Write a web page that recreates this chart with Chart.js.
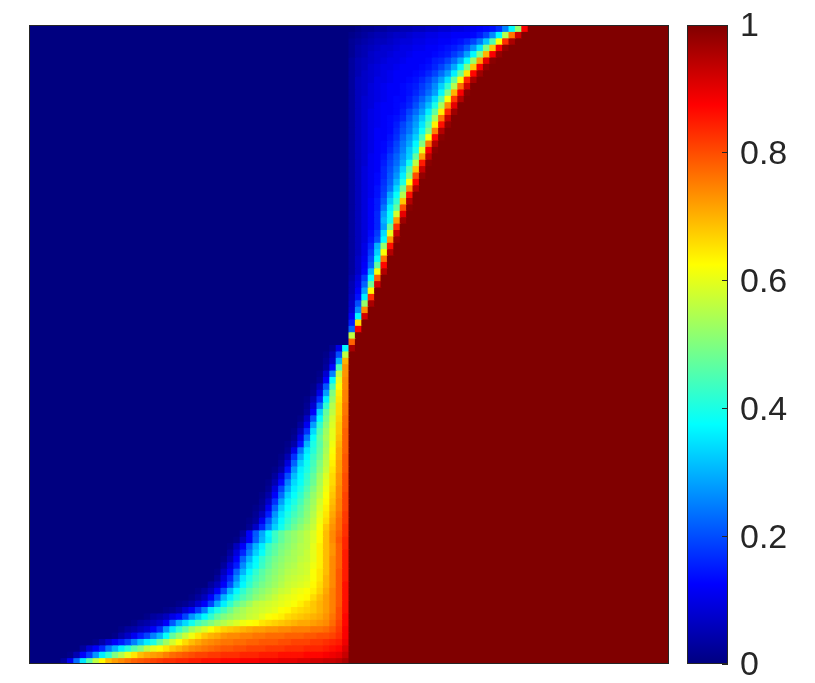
<!DOCTYPE html>
<html>
<head>
<meta charset="utf-8">
<title>Heat map</title>
<script src="https://cdn.jsdelivr.net/npm/chart.js@4/dist/chart.umd.min.js"></script>
<style>
  body { margin: 0; background: #fff; }
  canvas { position: absolute; left: 0; top: 0; }
</style>
</head>
<body>
<canvas id="map" width="815" height="683"></canvas>
<canvas id="bar" width="815" height="683"></canvas>
<script>
const COLUMNS = 100;
const colorbarTicks = [0, 0.2, 0.4, 0.6, 0.8, 1];

// jet colormap: stop position in percent, then rgb
const jetStops = [
  [0, [0, 0, 128]],
  [12.5, [0, 0, 255]],
  [37.5, [0, 255, 255]],
  [62.5, [255, 255, 0]],
  [87.5, [255, 0, 0]],
  [100, [128, 0, 0]],
];

// first column of each row that is not 0 (row 0 is the top row)
const firstRampColumn = [
  50, 50, 50, 50, 50, 50, 50, 50, 50, 50,
  50, 50, 50, 50, 50, 50, 50, 50, 50, 50,
  50, 50, 50, 50, 50, 50, 50, 50, 50, 50,
  50, 50, 50, 50, 50, 50, 50, 50, 50, 50,
  50, 50, 50, 50, 50, 50, 50, 50, 50, 50,
  47, 46, 46, 46, 45, 45, 44, 44, 43, 43,
  43, 42, 42, 41, 41, 40, 40, 39, 39, 38,
  38, 37, 37, 36, 36, 35, 35, 34, 34, 33,
  32, 31, 31, 30, 30, 29, 29, 28, 26, 25,
  23, 21, 18, 16, 14, 13, 10, 8, 6, 5,
];

// values read per row in percent, from firstRampColumn on. Whatever follows in the row is 100
const rampPercent = [
  [0,1,2,2,3,3,4,4,5,5,6,6,7,7,8,8,9,9,10,11,12,13,14,17,25,37,52,88],
  [1,2,3,4,5,5,6,7,7,8,9,9,10,10,11,11,12,12,12,13,15,19,26,37,55,76,92],
  [2,3,4,5,6,6,7,8,9,9,10,10,11,11,12,12,13,14,16,19,24,32,45,62,83,96],
  [2,4,5,6,7,8,8,9,10,10,11,11,12,12,13,14,15,17,21,27,35,50,68,88,98],
  [2,4,5,7,8,8,9,10,10,11,12,12,12,13,14,15,18,21,28,37,50,70,88,98],
  [3,5,6,7,8,9,10,10,11,12,12,12,13,15,16,19,23,29,38,52,72,90,99],
  [3,5,6,8,9,10,10,11,12,12,12,13,14,16,19,23,29,37,50,68,88,98],
  [3,5,7,8,9,10,11,12,12,12,13,14,16,19,23,28,36,48,65,87,97],
  [3,6,7,8,10,10,11,12,12,13,14,16,19,23,28,35,47,63,84,96],
  [3,6,7,9,10,11,12,12,13,14,15,18,21,26,33,42,55,77,92],
  [3,6,7,9,10,11,12,12,13,14,16,19,23,28,37,50,70,88,99],
  [3,6,8,9,10,11,12,13,13,15,18,22,27,34,45,62,82,95],
  [3,6,8,9,11,12,12,13,14,16,20,25,31,40,54,74,90],
  [3,6,8,10,11,12,12,13,15,19,23,28,36,47,64,84,97],
  [3,6,8,10,11,12,13,14,16,21,26,32,41,54,76,93],
  [3,6,8,10,11,12,13,15,19,23,28,35,45,64,86,98],
  [3,6,8,10,12,12,13,16,20,24,30,38,50,75,95],
  [3,6,8,10,12,12,14,17,22,27,33,44,62,87,99],
  [3,6,8,10,12,13,15,19,24,29,37,50,76,95],
  [3,6,8,10,12,13,16,20,25,32,40,60,88,99],
  [3,6,8,11,12,14,18,22,27,33,47,72,94],
  [3,6,8,11,12,15,19,23,29,39,56,85,99],
  [3,6,9,11,12,16,20,25,33,46,68,93],
  [3,6,9,11,13,16,21,27,36,50,80,98],
  [3,6,9,11,13,17,22,30,40,62,87],
  [3,6,9,11,14,18,24,34,48,74,95],
  [3,6,9,11,14,19,29,38,55,86],
  [3,6,9,12,15,21,32,42,68,95],
  [3,6,9,12,15,24,36,47,80,99],
  [3,6,9,12,16,28,38,58,90],
  [3,6,9,12,16,30,39,72,97],
  [3,6,9,12,16,28,48,83],
  [3,6,9,13,18,34,60,93],
  [3,6,9,14,20,37,73,98],
  [3,6,10,16,30,52,86],
  [3,6,10,18,33,62,95],
  [3,7,11,20,38,76],
  [3,7,12,22,47,87],
  [3,7,13,30,62,95],
  [4,9,18,38,78],
  [5,10,22,48,92],
  [5,12,28,63],
  [6,14,36,83],
  [7,20,52,96],
  [8,26,74],
  [11,37,92],
  [15,66],
  [22,88],
  [56],
  [78],
  // lower half, the ramp ends against the red block
  [2,10,37,96],
  [1,5,20,56],
  [2,7,30,70],
  [3,13,45,73],
  [1,8,25,56,73],
  [2,12,37,60,74],
  [1,6,21,44,62,74],
  [2,10,28,50,64,75],
  [1,5,16,36,52,65,75],
  [2,8,24,42,55,66,76],
  [3,12,33,47,56,66,76],
  [1,7,20,37,49,58,67,77],
  [3,11,28,42,51,59,68,77],
  [1,6,17,34,45,53,60,68,78],
  [2,10,24,38,47,54,60,69,78],
  [1,4,14,30,40,46,53,61,70,78],
  [2,10,24,35,41,47,54,62,71,78],
  [1,5,17,29,37,43,48,55,63,71,79],
  [2,9,22,33,39,44,50,56,64,72,79],
  [1,4,14,27,36,40,45,51,57,65,72,79],
  [3,9,20,31,37,42,47,53,59,66,73,80],
  [1,5,13,25,34,38,43,48,54,60,66,73,80],
  [2,9,19,29,36,40,45,50,55,61,67,74,80],
  [1,4,12,23,33,38,42,47,52,56,62,68,74,81],
  [2,7,17,28,36,40,44,49,53,58,63,69,75,81],
  [1,3,11,22,32,38,42,46,50,54,59,64,70,75,81],
  [2,6,15,27,35,40,44,47,51,55,60,65,71,76,82],
  [1,3,11,21,30,37,42,46,49,52,56,61,66,72,77,82],
  [2,7,16,25,33,39,44,48,51,54,57,62,68,73,77,83],
  [3,12,21,29,37,43,47,50,52,54,56,59,63,69,74,78,83],
  [1,6,12,22,30,36,43,47,50,52,54,56,59,63,69,74,79,84],
  [1,6,12,22,30,36,43,46,49,51,53,55,56,60,64,69,73,78,84],
  [3,9,16,25,33,38,44,47,50,52,54,55,57,60,64,69,73,78,85],
  [1,5,12,22,30,37,42,46,49,51,53,54,56,57,60,64,69,74,78,85],
  [3,9,15,26,34,38,43,47,50,52,54,55,57,58,61,64,69,74,78,85],
  [1,6,12,22,30,37,42,46,49,51,53,55,56,57,58,62,65,69,74,79,85],
  [3,9,16,26,35,40,44,47,50,52,54,56,57,58,59,62,65,70,74,79,85],
  [3,6,12,20,30,37,42,46,49,51,53,55,57,58,59,60,63,66,70,74,79,86],
  [1,3,6,12,20,30,37,42,46,49,51,53,55,57,58,60,61,62,64,67,71,75,79,86],
  [1,3,6,12,20,30,36,41,45,48,51,53,55,57,59,60,61,62,63,66,69,72,75,79,86],
  [1,2,4,8,12,19,29,36,42,47,50,53,56,57,58,59,60,61,62,64,66,68,70,72,75,79,86],
  [1,2,4,8,12,18,25,35,40,44,48,52,54,56,57,58,59,60,62,63,65,66,67,68,70,72,75,80,86],
  [1,3,4,6,10,13,19,27,32,37,42,47,50,52,54,55,57,58,60,62,63,64,66,67,68,69,70,71,73,76,80,87],
  [1,3,4,6,8,12,21,29,34,39,44,47,50,53,55,57,59,61,62,63,65,66,67,68,69,70,71,71,72,73,74,77,81,87],
  [1,3,4,6,8,12,17,27,35,42,47,53,56,59,62,65,67,68,69,70,71,72,72,73,73,74,74,75,75,75,76,76,77,79,82,88],
  [1,4,7,11,15,19,25,30,38,47,52,57,61,65,68,70,71,73,74,74,75,75,76,76,77,77,77,78,78,78,79,79,80,80,81,83,88],
  [1,4,8,12,15,19,25,31,36,40,47,53,58,62,66,69,71,73,74,75,76,76,77,77,78,78,79,79,79,80,80,81,81,81,82,82,83,84,85,89],
  [3,8,12,16,24,30,36,41,46,50,56,60,62,65,68,70,72,74,75,76,77,78,79,79,80,80,81,81,81,82,82,82,83,83,83,84,84,84,85,86,87,91],
  [1,5,12,18,27,36,42,50,55,60,65,69,71,72,73,75,77,78,79,80,81,81,82,82,83,83,83,84,84,84,85,85,85,86,86,86,86,87,87,87,88,89,90,93],
  [3,11,23,35,46,56,63,69,72,74,76,78,79,80,81,82,83,83,84,84,85,85,86,86,86,87,87,87,88,88,88,89,89,89,90,90,90,91,91,92,92,93,93,94,96],
];

function jetColor(percent) {
  let i = 1;
  while (i < jetStops.length - 1 && percent > jetStops[i][0]) i++;
  const [p0, c0] = jetStops[i - 1];
  const [p1, c1] = jetStops[i];
  const t = (percent - p0) / (p1 - p0);
  const mix = (k) => Math.round(c0[k] + (c1[k] - c0[k]) * t);
  return `rgb(${mix(0)},${mix(1)},${mix(2)})`;
}

function cellPercent(row, col) {
  const first = firstRampColumn[row];
  if (col < first) return 0;
  const ramp = rampPercent[row];
  return col - first < ramp.length ? ramp[col - first] : 100;
}

const frameColor = "#262626";

// the box around a plot area
const framePlugin = {
  id: "frame",
  afterDraw(chart) {
    const { ctx, chartArea: a } = chart;
    ctx.save();
    ctx.strokeStyle = frameColor;
    ctx.lineWidth = 1;
    ctx.strokeRect(a.left + 0.5, a.top + 0.5, a.right - a.left - 1, a.bottom - a.top - 1);
    ctx.restore();
  },
};

// one stacked dataset per row, the cell value only sets the colour
const columnLabels = Array.from({ length: COLUMNS }, (_, c) => c + 1);
const rowDatasets = firstRampColumn.map((_, row) => ({
  label: "row " + (row + 1),
  data: columnLabels.map(() => 1),
  backgroundColor: columnLabels.map((_, col) => jetColor(cellPercent(row, col))),
  borderWidth: 0,
  inflateAmount: 0.5,
  barPercentage: 1,
  categoryPercentage: 1,
}));

new Chart(document.getElementById("map"), {
  type: "bar",
  data: { labels: columnLabels, datasets: rowDatasets },
  plugins: [framePlugin],
  options: {
    responsive: false,
    animation: false,
    events: [],
    layout: { padding: { left: 29, top: 25, right: 146, bottom: 19 } },
    plugins: { legend: { display: false }, tooltip: { enabled: false } },
    scales: {
      x: { display: false, stacked: true },
      y: { display: false, stacked: true, reverse: true, min: 0, max: firstRampColumn.length },
    },
  },
});

new Chart(document.getElementById("bar"), {
  type: "bar",
  data: {
    labels: [""],
    datasets: [
      {
        data: [1],
        borderWidth: 0,
        barPercentage: 1,
        categoryPercentage: 1,
        backgroundColor(context) {
          const area = context.chart.chartArea;
          if (!area) return jetColor(50);
          const gradient = context.chart.ctx.createLinearGradient(0, area.bottom, 0, area.top);
          jetStops.forEach(([p]) => gradient.addColorStop(p / 100, jetColor(p)));
          return gradient;
        },
      },
    ],
  },
  plugins: [framePlugin],
  options: {
    responsive: false,
    animation: false,
    events: [],
    layout: { padding: { left: 687, top: 25, right: 0, bottom: 19 } },
    plugins: { legend: { display: false }, tooltip: { enabled: false } },
    scales: {
      x: { display: false },
      y: {
        position: "right",
        min: 0,
        max: 1,
        afterFit(scale) {
          scale.width = 87;
          scale.paddingTop = 0;
          scale.paddingBottom = 0;
        },
        afterBuildTicks(scale) { scale.ticks = colorbarTicks.map((value) => ({ value })); },
        border: { display: false },
        grid: { drawOnChartArea: false, drawTicks: true, tickLength: -6, tickColor: frameColor, z: 1 },
        ticks: {
          padding: 18,
          labelOffset: 2,
          color: frameColor,
          font: { family: "'Liberation Sans'", size: 34 },
          callback: (value) => String(value),
        },
      },
    },
  },
});
</script>
</body>
</html>
